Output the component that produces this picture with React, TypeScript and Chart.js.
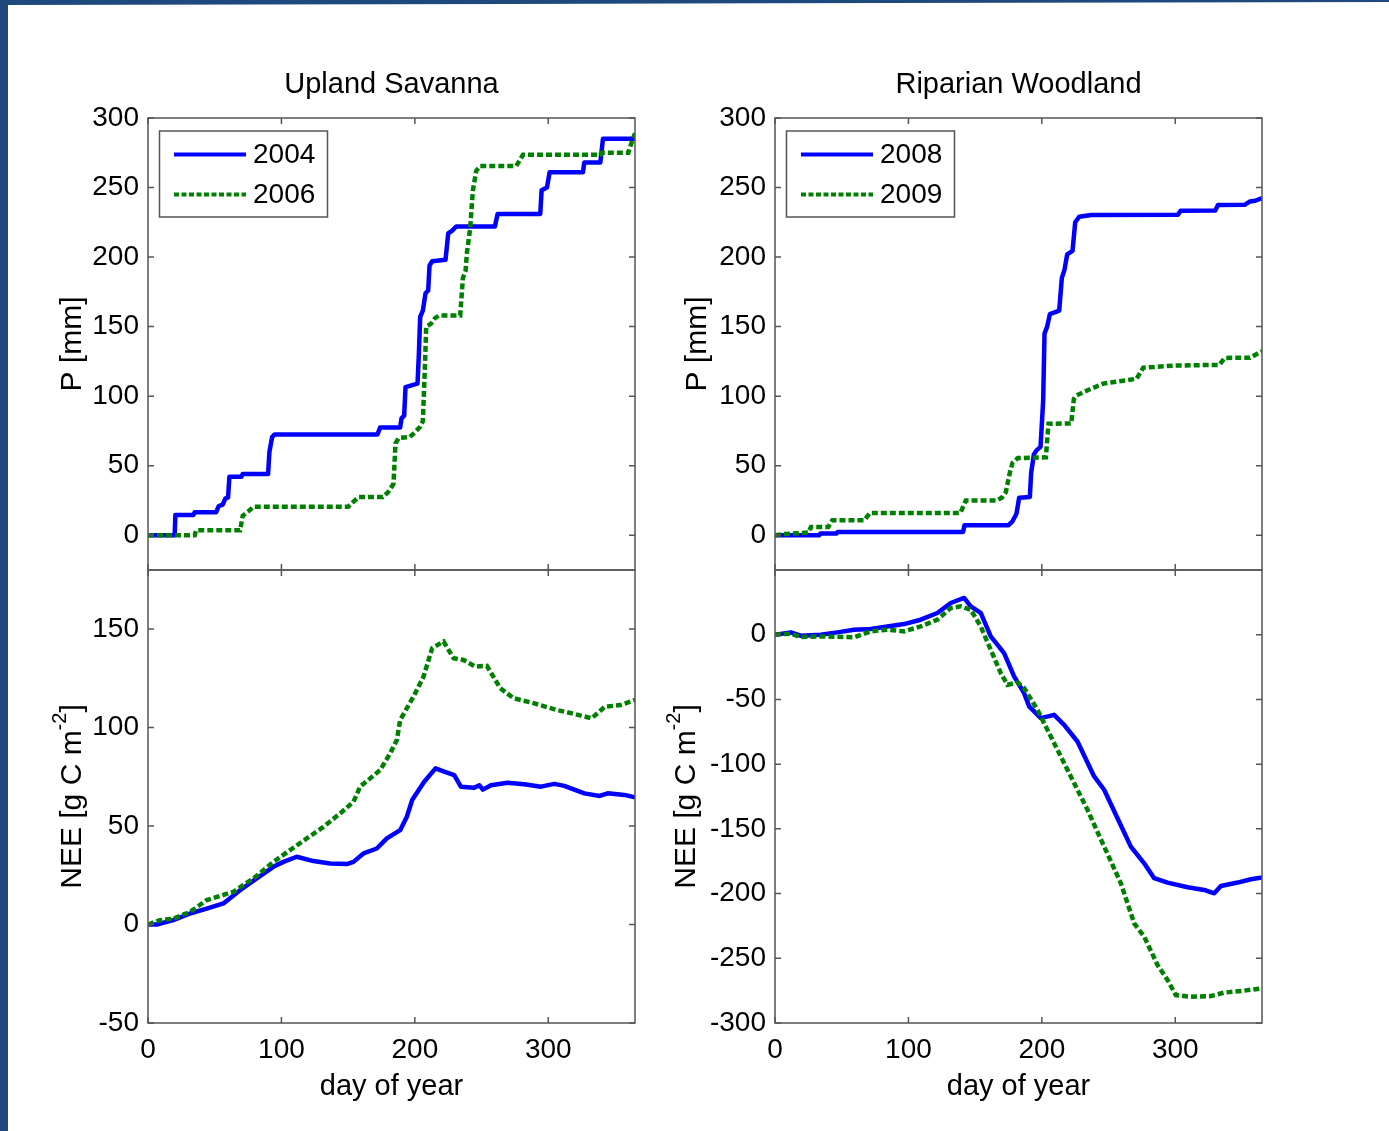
import React, { useEffect, useRef } from "react";
import { Chart, registerables } from "chart.js";

Chart.register(...registerables);

// ---------------- data ----------------
const xTickValues = [0, 100, 200, 300];
const pTickValues = [0, 50, 100, 150, 200, 250, 300];
const neeUplandTickValues = [-50, 0, 50, 100, 150];
const neeRiparianTickValues = [-300, -250, -200, -150, -100, -50, 0];

// Upland Savanna, cumulative precipitation
const uplandP2004Day = [0, 20, 20.5, 34, 35, 51, 53, 56, 58, 60, 61, 70, 71, 90, 91, 93, 95, 172, 174, 189, 190, 192, 193, 202, 203, 204, 206, 208, 210, 211, 213, 223, 225, 228, 231, 260, 262, 294, 295, 299, 301, 326, 327, 339, 341, 365];
const uplandP2004 = [0, 0, 14.5, 14.5, 16.5, 16.5, 21, 22, 26.5, 27, 42, 42, 44, 44, 60, 70.5, 72.5, 72.5, 77.5, 77.5, 84, 86, 106.5, 109, 130, 157, 161.5, 174, 176, 194, 197, 198, 217, 219, 222, 222, 231, 231, 248, 250, 261, 261, 268, 268, 285, 285];
const uplandP2006Day = [0, 35, 36, 69, 71, 75, 79, 150, 155, 158, 176, 180, 184, 185.5, 188, 196, 199, 204, 206, 207.5, 208.5, 212, 215, 218, 234, 236, 238, 239, 240, 241.5, 243.5, 246, 249, 276, 281, 339, 340, 360, 362, 365];
const uplandP2006 = [0, 0, 3.5, 3.5, 14, 17, 20.5, 20.5, 25, 27.5, 27.5, 31, 37, 66, 70, 70.5, 73, 78, 82, 120, 150, 152, 156, 158, 158, 185, 190, 203, 210, 221, 248, 262, 265.5, 265.5, 273.5, 273.5, 275, 275, 281, 289];

// Riparian Woodland, cumulative precipitation
const riparianP2008Day = [0, 33, 34, 46, 47, 141, 142, 175, 178, 181, 183, 191, 192, 194, 196, 199, 200, 201, 202, 204, 206, 213, 215, 217, 219, 223, 225, 228, 237, 302, 304, 330, 332, 352, 356, 360, 365];
const riparianP2008 = [0, 0, 1.2, 1.2, 2.4, 2.4, 7.2, 7.2, 10, 15.5, 27, 27.5, 45, 58, 61, 63.5, 80, 97, 145, 150, 159, 161.5, 185, 191, 202, 204.5, 225, 229, 230.3, 230.5, 233.3, 233.5, 237.5, 237.6, 240, 240.5, 242.4];
const riparianP2009Day = [0, 5, 25, 27, 40, 43, 67, 71, 139, 143, 166, 170, 173, 176, 178, 182, 203, 205, 222, 224, 226, 236, 246, 271, 276, 300, 333, 337, 356, 365];
const riparianP2009 = [0, 0.7, 1.9, 6, 6, 10.8, 10.8, 16, 16, 25, 25, 27, 31, 45, 52, 55.5, 56, 80.2, 80.3, 98, 100.5, 105, 109, 112.5, 120.5, 122, 122.5, 127.5, 127.6, 132.3];

// Upland Savanna, cumulative NEE
const uplandNee2004Day = [0, 6.5, 19, 31.5, 44, 56.5, 69, 81.5, 94, 101.5, 111.5, 124, 136.5, 149, 154, 161.5, 171.5, 179, 189, 194, 198, 207, 215.5, 222, 229.5, 234.5, 244.5, 248.3, 251, 257, 269.5, 282, 294.5, 304.5, 312, 327, 338.5, 344.5, 357, 365];
const uplandNee2004 = [0, 0, 2.2, 5.6, 8.1, 10.7, 17.4, 23.4, 29.3, 31.8, 34.4, 32.2, 31, 30.7, 31.8, 36.1, 38.6, 43.7, 47.9, 54.7, 63.2, 72.5, 79.3, 77.6, 75.9, 70, 69.4, 70.7, 68.5, 70.7, 72, 71.2, 70, 71.4, 70.4, 66.6, 65.3, 66.6, 65.8, 64.6];
const uplandNee2006Day = [0, 9, 19, 31.5, 44, 64, 79, 94, 106.5, 119, 131.5, 144, 154, 159, 174, 181.5, 186.5, 189, 199, 206.5, 213, 221.5, 229, 236.5, 245, 254, 264, 274, 289, 306.5, 319, 332.5, 342.5, 354, 365];
const uplandNee2006 = [0, 2.2, 3, 6.4, 12.4, 16.6, 23.4, 31.8, 37.8, 43.7, 49.6, 56.4, 62.3, 70, 78.4, 86.9, 93.7, 103.9, 115.7, 125.9, 140.3, 143.7, 135.2, 134.3, 131, 131.3, 120, 114.9, 112.4, 108.9, 107, 104.7, 110.6, 111.4, 114];

// Riparian Woodland, cumulative NEE
const riparianNee2008Day = [0, 11.8, 19.3, 34.3, 46.7, 59.2, 71.7, 84.2, 96.7, 109.2, 121.7, 131.7, 141.7, 146.7, 154.2, 161.7, 171.7, 179.2, 186.7, 190.5, 199.2, 209.2, 216.7, 226.7, 239.2, 246.7, 256.7, 266.7, 276.7, 284.2, 294.2, 309.2, 321.7, 329.2, 334.2, 346.7, 356.7, 365];
const riparianNee2008 = [0, 1.8, -0.8, 0, 1.8, 3.9, 4.4, 6.4, 8.2, 11.6, 16.8, 24.5, 28.4, 21.9, 16.8, -1.3, -14.2, -32.2, -45.1, -55.4, -64.4, -61.9, -69.6, -82.5, -109.5, -119.8, -141.8, -163.7, -176.6, -188.1, -191.5, -195.1, -197.2, -199.8, -194.1, -191.5, -188.9, -187.6];
const riparianNee2009Day = [0, 11.8, 19.3, 34.3, 59.2, 71.7, 84.2, 96.7, 109.2, 121.7, 131.7, 139.2, 146.7, 154.2, 161.7, 169.2, 174.2, 181.7, 186.7, 196.7, 209.2, 221.7, 234.2, 246.7, 259.2, 269.2, 276.7, 286.7, 294.2, 300.4, 311.7, 326.7, 336.7, 351.7, 365];
const riparianNee2009 = [0, 0.8, -1.8, -1.3, -2, 2.6, 3.9, 2.6, 6.4, 11.6, 20.6, 21.9, 19.3, 6.4, -11.6, -29.6, -38.7, -36.9, -41.2, -58, -83.8, -109.5, -135.3, -163.7, -192, -223, -233.3, -255.2, -266.8, -278.4, -279.7, -279.2, -276.5, -275, -273.2];

// ---------------- styling ----------------
const FONT = '"Liberation Sans", Arial, Helvetica, sans-serif';
const BLUE = "#0000ff";
const GREEN = "#008000";
const AXIS = "#555555";
const FRAME = "#1f497d";
const PAD_L = 140;
const PAD_R = 30;

type Series = { label: string; days: number[]; vals: number[]; color: string; dashed: boolean };
type PanelCfg = {
  rect: { L: number; T: number; R: number; B: number };
  padT: number;
  padB: number;
  yMin: number;
  yMax: number;
  yTicks: number[];
  showXLabels: boolean;
  title?: string;
  yLabel: string;
  ySup?: string;
  yTail?: string;
  yLabelGap: number;
  legend: boolean;
  series: Series[];
};

function makePanels(): PanelCfg[] {
  return [
    {
      rect: { L: 148, T: 118, R: 635, B: 570 }, padT: 100, padB: 40,
      yMin: -25, yMax: 300, yTicks: pTickValues, showXLabels: false,
      title: "Upland Savanna", yLabel: "P [mm]", yLabelGap: 67, legend: true,
      series: [
        { label: "2004", days: uplandP2004Day, vals: uplandP2004, color: BLUE, dashed: false },
        { label: "2006", days: uplandP2006Day, vals: uplandP2006, color: GREEN, dashed: true },
      ],
    },
    {
      rect: { L: 774.5, T: 118, R: 1261.5, B: 570 }, padT: 100, padB: 40,
      yMin: -25, yMax: 300, yTicks: pTickValues, showXLabels: false,
      title: "Riparian Woodland", yLabel: "P [mm]", yLabelGap: 69, legend: true,
      series: [
        { label: "2008", days: riparianP2008Day, vals: riparianP2008, color: BLUE, dashed: false },
        { label: "2009", days: riparianP2009Day, vals: riparianP2009, color: GREEN, dashed: true },
      ],
    },
    {
      rect: { L: 148, T: 570, R: 635, B: 1023 }, padT: 40, padB: 100,
      yMin: -50, yMax: 180, yTicks: neeUplandTickValues, showXLabels: true,
      yLabel: "NEE [g C m", ySup: "-2", yTail: "]", yLabelGap: 67, legend: false,
      series: [
        { label: "2004", days: uplandNee2004Day, vals: uplandNee2004, color: BLUE, dashed: false },
        { label: "2006", days: uplandNee2006Day, vals: uplandNee2006, color: GREEN, dashed: true },
      ],
    },
    {
      rect: { L: 774.5, T: 570, R: 1261.5, B: 1023 }, padT: 40, padB: 100,
      yMin: -300, yMax: 50, yTicks: neeRiparianTickValues, showXLabels: true,
      yLabel: "NEE [g C m", ySup: "-2", yTail: "]", yLabelGap: 80, legend: false,
      series: [
        { label: "2008", days: riparianNee2008Day, vals: riparianNee2008, color: BLUE, dashed: false },
        { label: "2009", days: riparianNee2009Day, vals: riparianNee2009, color: GREEN, dashed: true },
      ],
    },
  ];
}

function Panel({ cfg }: { cfg: PanelCfg }) {
  const ref = useRef<HTMLCanvasElement>(null);
  const { L, T, R, B } = cfg.rect;
  const left = L - PAD_L;
  const top = T - cfg.padT;
  const width = R - L + PAD_L + PAD_R;
  const height = B - T + cfg.padT + cfg.padB;

  useEffect(() => {
    const canvas = ref.current;
    if (!canvas) return;

    const decor = {
      id: "decor",
      afterDatasetsDraw(chart: any) {
        const ctx = chart.ctx as CanvasRenderingContext2D;
        const a = chart.chartArea;
        const xs = chart.scales.x;
        const ys = chart.scales.y;
        ctx.save();
        // box
        ctx.strokeStyle = AXIS;
        ctx.lineWidth = 1.5;
        ctx.strokeRect(a.left, a.top, a.right - a.left, a.bottom - a.top);
        // inward ticks
        const tl = 6;
        ctx.beginPath();
        for (const v of xTickValues) {
          const px = xs.getPixelForValue(v);
          ctx.moveTo(px, a.bottom); ctx.lineTo(px, a.bottom - tl);
          ctx.moveTo(px, a.top); ctx.lineTo(px, a.top + tl);
        }
        for (const v of cfg.yTicks) {
          const py = ys.getPixelForValue(v);
          ctx.moveTo(a.left, py); ctx.lineTo(a.left + tl, py);
          ctx.moveTo(a.right, py); ctx.lineTo(a.right - tl, py);
        }
        ctx.stroke();

        // legend
        if (cfg.legend) {
          const bx = a.left + 11.5, by = 131 - top, bw = 168, bh = 86;
          ctx.fillStyle = "#ffffff";
          ctx.fillRect(bx, by, bw, bh);
          ctx.strokeStyle = AXIS;
          ctx.lineWidth = 1.5;
          ctx.strokeRect(bx, by, bw, bh);
          const rows = [154.5 - top, 194.5 - top];
          cfg.series.forEach((s, i) => {
            ctx.beginPath();
            ctx.strokeStyle = s.color;
            ctx.lineWidth = 4;
            ctx.setLineDash(s.dashed ? [5, 2.5] : []);
            ctx.lineCap = "butt";
            ctx.moveTo(a.left + 26, rows[i]);
            ctx.lineTo(a.left + 98, rows[i]);
            ctx.stroke();
            ctx.setLineDash([]);
            ctx.fillStyle = "#000";
            ctx.font = `28px ${FONT}`;
            ctx.textAlign = "left";
            ctx.textBaseline = "middle";
            ctx.fillText(s.label, a.left + 105, rows[i] + 1);
          });
        }

        // panel title
        ctx.fillStyle = "#000";
        if (cfg.title) {
          ctx.font = `29px ${FONT}`;
          ctx.textAlign = "center";
          ctx.textBaseline = "alphabetic";
          ctx.fillText(cfg.title, (a.left + a.right) / 2, 93 - top);
        }
        // x axis title
        if (cfg.showXLabels) {
          ctx.font = `29px ${FONT}`;
          ctx.textAlign = "center";
          ctx.textBaseline = "alphabetic";
          ctx.fillText("day of year", (a.left + a.right) / 2, 1095 - top);
        }
        // y axis title (rotated)
        const cy = (a.top + a.bottom) / 2;
        const baseX = a.left - cfg.yLabelGap;
        ctx.translate(baseX, cy);
        ctx.rotate(-Math.PI / 2);
        ctx.textBaseline = "alphabetic";
        ctx.textAlign = "left";
        const mainFont = `30px ${FONT}`;
        const supFont = `20px ${FONT}`;
        ctx.font = mainFont;
        const wMain = ctx.measureText(cfg.yLabel).width;
        const wTail = cfg.yTail ? ctx.measureText(cfg.yTail).width : 0;
        ctx.font = supFont;
        const wSup = cfg.ySup ? ctx.measureText(cfg.ySup).width : 0;
        const total = wMain + wSup + wTail;
        let x0 = -total / 2;
        ctx.font = mainFont;
        ctx.fillText(cfg.yLabel, x0, 0);
        x0 += wMain;
        if (cfg.ySup) {
          ctx.font = supFont;
          ctx.fillText(cfg.ySup, x0, -15);
          x0 += wSup;
        }
        if (cfg.yTail) {
          ctx.font = mainFont;
          ctx.fillText(cfg.yTail, x0, 0);
        }
        ctx.restore();
      },
    };

    const chart = new Chart(canvas, {
      type: "line",
      data: {
        datasets: cfg.series.map((s, i) => ({
          label: s.label,
          data: s.days.map((d, k) => ({ x: d, y: s.vals[k] })),
          borderColor: s.color,
          backgroundColor: s.color,
          borderWidth: s.dashed ? 4.5 : 4.5,
          borderDash: s.dashed ? [6, 3] : [],
          borderCapStyle: "butt",
          borderJoinStyle: s.dashed ? "miter" : "round",
          pointRadius: 0,
          pointHoverRadius: 0,
          fill: false,
          tension: 0,
          order: cfg.series.length - i,
        })),
      },
      options: {
        animation: false,
        responsive: false,
        devicePixelRatio: 1,
        events: [],
        layout: { padding: { left: 0, right: PAD_R, top: cfg.padT, bottom: 0 } },
        plugins: { legend: { display: false }, tooltip: { enabled: false }, title: { display: false } },
        scales: {
          x: {
            type: "linear",
            min: 0,
            max: 365,
            afterBuildTicks: (s: any) => { s.ticks = xTickValues.map((v) => ({ value: v })); },
            afterFit: (s: any) => { s.height = cfg.padB; },
            grid: { display: false, drawTicks: false },
            border: { display: false },
            ticks: {
              display: cfg.showXLabels,
              font: { family: FONT, size: 28 },
              color: "#000",
              padding: 10,
              maxRotation: 0,
              autoSkip: false,
            },
          },
          y: {
            type: "linear",
            min: cfg.yMin,
            max: cfg.yMax,
            afterBuildTicks: (s: any) => { s.ticks = cfg.yTicks.map((v) => ({ value: v })); },
            afterFit: (s: any) => { s.width = PAD_L; },
            grid: { display: false, drawTicks: false },
            border: { display: false },
            ticks: {
              font: { family: FONT, size: 28 },
              color: "#000",
              padding: 9,
              autoSkip: false,
            },
          },
        },
      },
      plugins: [decor],
    } as any);
    return () => chart.destroy();
  }, []);

  return (
    <canvas
      ref={ref}
      width={width}
      height={height}
      style={{ position: "absolute", left, top, width, height }}
    />
  );
}

export default function App() {
  const panels = makePanels();
  return (
    <div style={{ position: "absolute", left: 0, top: 0, width: 1389, height: 1131, background: "#ffffff", overflow: "hidden" }}>
      <div style={{ position: "absolute", left: 0, top: 0, width: 1389, height: 5, background: FRAME, clipPath: "polygon(0 0, 100% 0, 100% 40%, 0 100%)" }} />
      <div style={{ position: "absolute", left: 0, top: 0, width: 8, height: 1131, background: FRAME }} />
      {panels.map((p, i) => (
        <Panel key={i} cfg={p} />
      ))}
    </div>
  );
}
